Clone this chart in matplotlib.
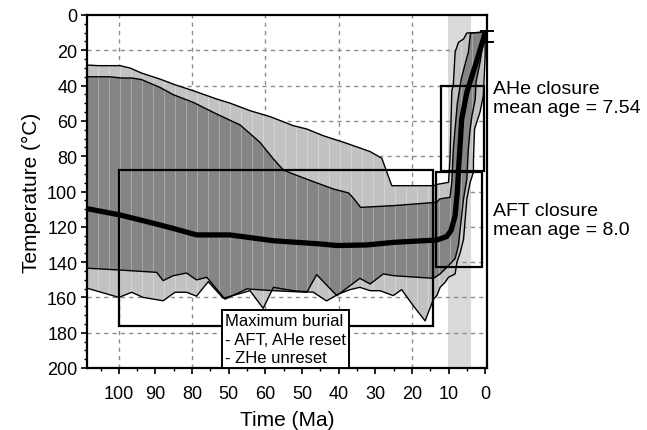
import numpy as np
import matplotlib
matplotlib.use("Agg")
import matplotlib.pyplot as plt
from matplotlib.patches import Rectangle
from matplotlib.collections import LineCollection

plt.rcParams['font.family'] = ['Liberation Sans', 'DejaVu Sans']

# outer (acceptable) envelope, light gray
light_upper_t = [110, 105.7, 99.7, 97.0, 93.8, 88.8, 84.7, 79.7, 73.3, 69.7, 64.2, 58.7, 52.4, 48.7,
                 44.2, 37.8, 31.4, 28.2, 25.5, 14.1, 12.7, 10.0, 9.6, 9.1, 8.7, 8.2, 7.3, 5.9, 5.0, 0.0]
light_upper_T = [28.2, 28.7, 28.7, 30.0, 32.9, 36.3, 39.5, 42.9, 47.6, 49.9, 54.2, 57.6, 62.7, 64.6,
                 68.4, 72.7, 77.4, 81.2, 96.7, 96.7, 95.8, 94.8, 81.6, 42.9, 40.0, 21.0, 15.5, 13.6, 10.2, 9.8]
light_lower_t = [110, 100.0, 96.5, 93.4, 87.9, 84.7, 81.5, 78.8, 75.6, 71.5, 64.2, 60.6, 57.8, 52.4,
                 46.9, 43.3, 40.1, 36.9, 34.2, 31.4, 28.7, 25.1, 22.8, 19.6, 16.4, 14.1, 13.2, 12.3,
                 10.9, 10.0, 8.2, 7.7, 6.8, 5.9, 5.0, 4.1, 3.2, 3.2, 2.9, 2.3, 1.4, 0.5, 0.0, 0.0]
light_lower_T = [154.0, 160.0, 157.1, 160.0, 161.9, 157.1, 157.1, 159.3, 151.1, 160.5, 156.2, 166.2, 154.3, 156.2,
                 157.1, 162.0, 158.2, 155.6, 154.3, 156.2, 156.2, 159.0, 155.6, 164.8, 173.3, 161.0, 159.0, 154.3,
                 151.4, 148.6, 146.7, 140.0, 134.5, 127.0, 104.2, 94.8, 89.1, 81.6, 64.6, 60.8, 55.0, 45.7, 23.0, 9.8]

# inner (good) envelope, dark gray
dark_upper_t = [110, 102.5, 99.3, 96.5, 93.8, 88.8, 85.2, 79.7, 73.3, 66.9, 61.5, 57.8, 55.1, 52.4, 46.9,
                41.4, 37.3, 36.0, 34.0, 25.0, 13.2, 12.4, 9.6, 9.1, 8.7, 7.6, 6.5, 5.5, 4.6, 4.0, 0.0]
dark_upper_T = [35.0, 35.0, 35.7, 35.7, 36.6, 41.0, 45.1, 49.5, 56.1, 62.3, 72.1, 81.6, 87.8, 90.1, 94.4,
                98.6, 100.8, 103.7, 109.0, 108.0, 106.1, 104.2, 103.3, 94.8, 75.9, 50.0, 36.0, 28.0, 21.1, 10.2, 9.6]
dark_lower_t = [110, 99.7, 89.7, 87.9, 85.2, 81.5, 78.8, 76.0, 71.0, 65.1, 57.8, 48.7, 46.0, 40.5, 34.2,
                31.4, 27.8, 25.0, 14.1, 12.3, 10.0, 8.2, 7.3, 6.8, 5.9, 5.0, 4.6, 4.1, 3.6, 2.7, 2.5, 1.4, 0.3, 0.0]
dark_lower_T = [143.3, 144.5, 145.8, 150.5, 147.7, 146.2, 150.1, 148.6, 161.0, 155.2, 156.2, 157.1, 147.1, 159.0, 149.2,
                152.4, 146.7, 147.7, 149.2, 146.7, 142.0, 138.0, 130.7, 121.0, 104.0, 93.0, 76.0, 64.6, 57.0, 47.6, 38.0, 26.8, 12.0, 9.6]

# best-fit path
best_t = [110, 99.7, 91.5, 85.2, 78.8, 69.7, 57.8, 45.1, 40.5, 32.3, 25.0, 13.2, 10.5, 9.3, 8.2, 7.6,
          7.1, 6.4, 5.0, 2.7, 0.5, 0.0]
best_T = [109.2, 113.3, 117.5, 120.9, 124.6, 124.6, 127.9, 129.7, 130.6, 130.3, 128.8, 127.5, 125.5, 122.0,
          113.7, 100.0, 82.0, 59.0, 43.8, 28.7, 13.6, 9.8]

# constraint boxes (t_old, t_young, T_top, T_bottom)
burial_box = [100.0, 14.3, 88.0, 176.0]
ahe_box = [12.1, 0.3, 40.0, 88.4]
aft_box = [13.5, 1.0, 89.0, 142.8]
band_t = [10.1, 3.8]
present_T = [8.9, 15.5]

x_ticks = [100, 90, 80, 70, 60, 50, 40, 30, 20, 10, 0]
x_ticklabels = ['100', '90', '80', '50', '60', '50', '40', '30', '20', '10', '0']

fig = plt.figure(figsize=(6.47, 4.31), dpi=100)
ax = fig.add_axes([87/647, 62/431, 400/647, 353/431])

ax.axvspan(band_t[1], band_t[0], color='#d9d9d9', lw=0, zorder=0.5)


def polygon(ut, uT, lt, lT):
    return np.column_stack([list(ut) + list(lt[::-1]), list(uT) + list(lT[::-1])])


light_poly = ax.fill(*polygon(light_upper_t, light_upper_T, light_lower_t, light_lower_T).T,
                     color='#c2c2c2', lw=0, zorder=2)[0]
dark_poly = ax.fill(*polygon(dark_upper_t, dark_upper_T, dark_lower_t, dark_lower_T).T,
                    color='#858585', lw=0, zorder=3)[0]

# faint vertical striping inside the envelopes
stripe_x = np.arange(105.7, 0, -3.0)
for poly, z in [(light_poly, 2.5), (dark_poly, 3.5)]:
    lc = LineCollection([[(x, 0), (x, 200)] for x in stripe_x], colors='white',
                        linewidths=0.7, alpha=0.3, zorder=z)
    ax.add_collection(lc)
    lc.set_clip_path(poly)

for t, T in [(light_upper_t, light_upper_T), (light_lower_t, light_lower_T),
             (dark_upper_t, dark_upper_T), (dark_lower_t, dark_lower_T)]:
    ax.plot(t, T, color='black', lw=1.0, zorder=4)

for b in [burial_box, ahe_box, aft_box]:
    ax.add_patch(Rectangle((b[1], b[2]), b[0] - b[1], b[3] - b[2], fill=False,
                           ec='black', lw=1.6, zorder=5))

ax.plot(best_t, best_T, color='black', lw=3.8, solid_capstyle='butt', zorder=6)

for T in present_T:
    ax.plot([1.1, -2.2], [T, T], color='black', lw=1.4, clip_on=False, zorder=6)

ax.text(54.6, 169.0, 'Maximum burial\n- AFT, AHe reset\n- ZHe unreset', fontsize=12,
        ha='center', va='top', multialignment='left', linespacing=1.28, zorder=8,
        bbox=dict(boxstyle='square,pad=0.18', fc='white', ec='black', lw=1.4))

fig.text(493/647, 1 - 99/431, 'AHe closure\nmean age = 7.54', fontsize=14, va='center', ha='left',
         linespacing=1.1)
fig.text(493/647, 1 - 221/431, 'AFT closure\nmean age = 8.0', fontsize=14, va='center', ha='left',
         linespacing=1.1)

ax.set_xlim(108.7, -0.5)
ax.set_ylim(200, 0)
ax.set_xticks(x_ticks)
ax.set_xticklabels(x_ticklabels)
ax.set_xticks(np.arange(105, 0, -5), minor=True)
ax.set_yticks(np.arange(0, 201, 20))
ax.set_yticks(np.arange(0, 201, 5), minor=True)
ax.tick_params(which='major', direction='out', length=4, width=1.2, labelsize=13, pad=3)
ax.tick_params(which='minor', direction='out', length=2.5, width=1.0)
ax.tick_params(axis='x', pad=8)

for x in [100, 80, 60, 40, 20]:
    ax.axvline(x, color='#8c8c8c', lw=1.0, ls=(0, (3, 3)), zorder=1)
for y in range(20, 200, 20):
    ax.axhline(y, color='#8c8c8c', lw=1.0, ls=(0, (3, 3)), zorder=1)

for s in ax.spines.values():
    s.set_linewidth(1.6)
    s.set_zorder(7)

ax.set_xlabel('Time (Ma)', fontsize=15, labelpad=6)
ax.set_ylabel('Temperature (°C)', fontsize=15, labelpad=4)

fig.savefig('out.png', dpi=100)
